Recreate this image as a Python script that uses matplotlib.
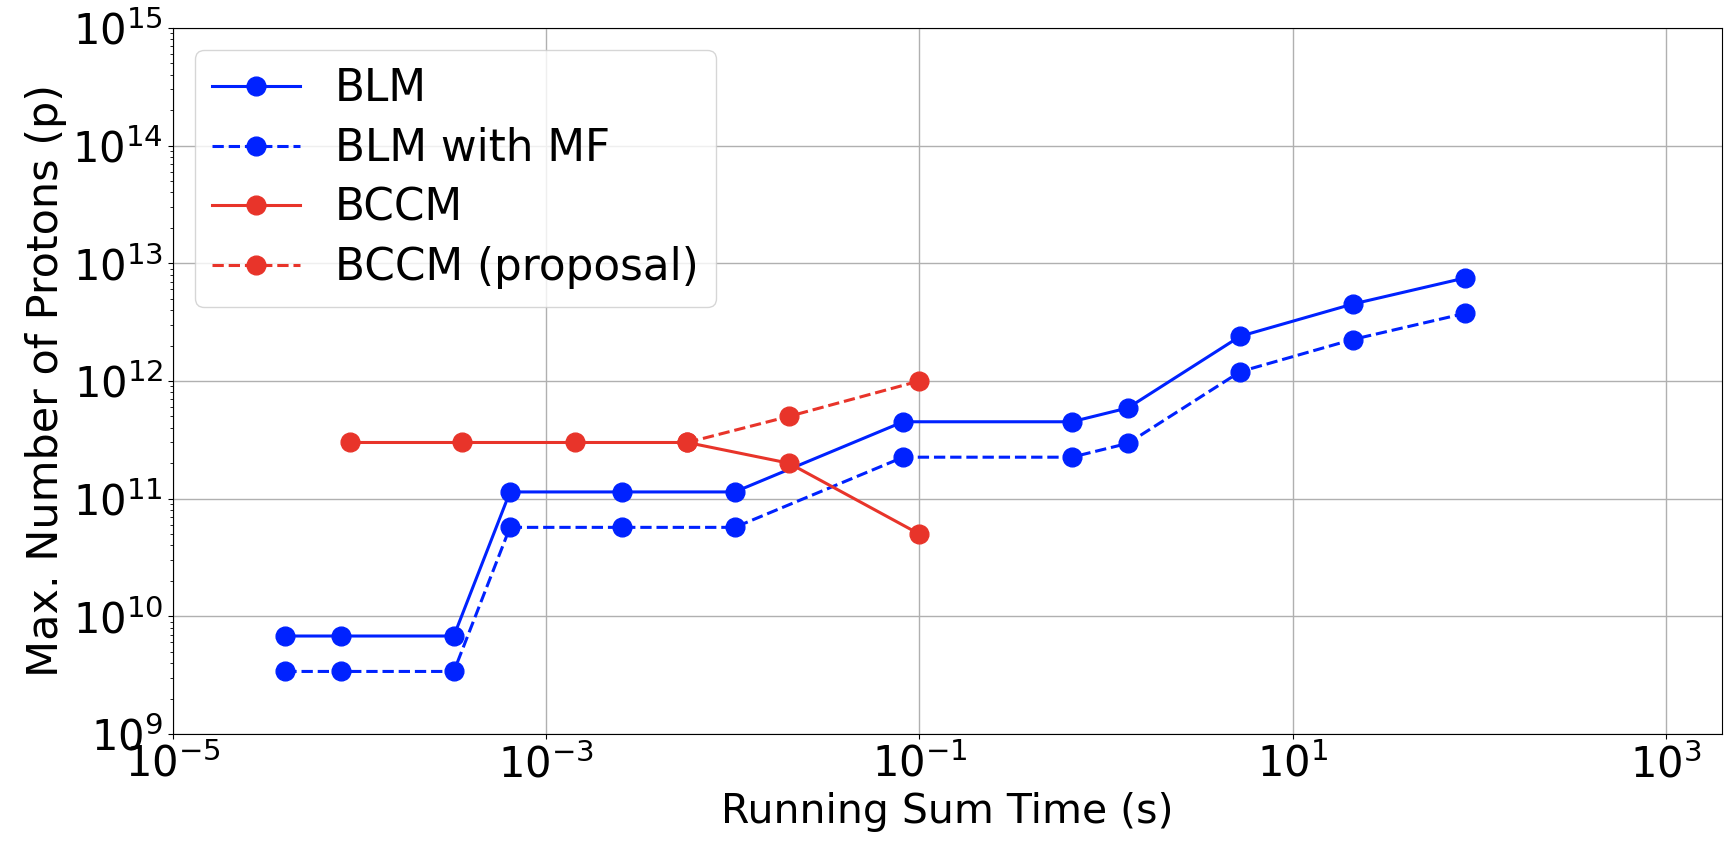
import matplotlib
matplotlib.use("Agg")
import matplotlib.pyplot as plt

# Data
blm_t = [40e-6, 80e-6, 320e-6, 640e-6, 2.56e-3, 10.24e-3, 81.92e-3, 0.65536, 1.31072, 5.24288, 20.97152, 83.88608]
blm_n = [6.8e9, 6.8e9, 6.8e9, 1.14e11, 1.14e11, 1.14e11, 4.5e11, 4.5e11, 5.9e11, 2.4e12, 4.5e12, 7.5e12]
blm_mf_n = [3.4e9, 3.4e9, 3.4e9, 5.7e10, 5.7e10, 5.7e10, 2.25e11, 2.25e11, 2.95e11, 1.2e12, 2.25e12, 3.75e12]

bccm_t = [8.9e-5, 3.56e-4, 1.42e-3, 5.7e-3, 0.02, 0.1]
bccm_n = [3e11, 3e11, 3e11, 3e11, 2e11, 5e10]

bccm_prop_t = [5.7e-3, 0.02, 0.1]
bccm_prop_n = [3e11, 5e11, 1e12]

x_ticks = [1e-5, 1e-3, 1e-1, 1e1, 1e3]

blue = '#0022FF'
red = '#E8342A'

fig = plt.figure(figsize=(17.35, 8.46), dpi=100)
ax = fig.add_axes([0.0997, 0.1324, 0.9925 - 0.0997, 0.967 - 0.1324])

lw = 2.2
ms = 13.5
ax.plot(blm_t, blm_n, '-o', color=blue, lw=lw, ms=ms, label='BLM')
ax.plot(blm_t, blm_mf_n, '--o', color=blue, lw=lw, ms=ms, label='BLM with MF')
ax.plot(bccm_t, bccm_n, '-o', color=red, lw=lw, ms=ms, label='BCCM')
ax.plot(bccm_prop_t, bccm_prop_n, '--o', color=red, lw=lw, ms=ms, label='BCCM (proposal)')

ax.set_xscale('log')
ax.set_yscale('log')
ax.set_xlim(1e-5, 2e3)
ax.set_ylim(1e9, 1e15)
ax.set_xticks(x_ticks)
ax.xaxis.set_minor_locator(matplotlib.ticker.NullLocator())
ax.grid(True, which='major', color='#b0b0b0', lw=1.0)
ax.tick_params(axis='both', which='major', labelsize=30)
ax.set_xlabel('Running Sum Time (s)', fontsize=29.5)
ax.set_ylabel('Max. Number of Protons (p)', fontsize=31)
ax.legend(loc='upper left', fontsize=31.5, labelspacing=0.38)

fig.savefig('out.png', dpi=100)
